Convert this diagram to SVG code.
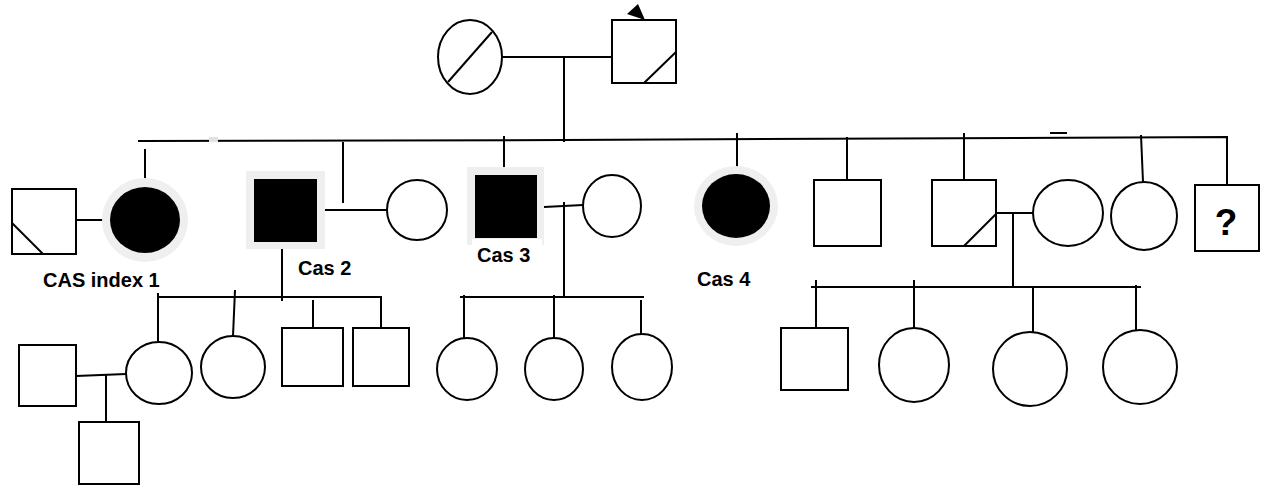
<svg xmlns="http://www.w3.org/2000/svg" width="1263" height="486" viewBox="0 0 1263 486">
<style>
.n{fill:#fff;stroke:#000;stroke-width:2}
.a{fill:#000;stroke:none}
.h{fill:#efefef;stroke:none}
.l{stroke:#000;stroke-width:2;fill:none}
.t{font-family:"Liberation Sans",Arial,sans-serif;font-weight:bold;font-size:20px;fill:#000}
</style>
<rect width="1263" height="486" fill="#fff"/>
<g id="connectors" class="l">
<line x1="502" y1="57" x2="612" y2="57"/>
<line x1="564" y1="57" x2="564" y2="142"/>
<polyline points="138,141 564,140 1227,137 1227,185"/>
<line x1="504" y1="137" x2="504" y2="150"/>
<line x1="145" y1="149" x2="145" y2="179"/>
<line x1="343" y1="142" x2="343" y2="203"/>
<line x1="504" y1="136" x2="504" y2="175"/>
<line x1="737" y1="133" x2="737" y2="175"/>
<line x1="847" y1="137" x2="847" y2="180"/>
<line x1="964" y1="133" x2="964" y2="180"/>
<line x1="1141" y1="135" x2="1143" y2="182"/>
<line x1="1050" y1="133" x2="1067" y2="133"/>
<line x1="76" y1="220" x2="103" y2="220"/>
<line x1="325" y1="210" x2="387" y2="210"/>
<line x1="544" y1="207" x2="583" y2="205"/>
<line x1="996" y1="213" x2="1033" y2="213"/>
<line x1="282" y1="242" x2="282" y2="301"/>
<polyline points="158,297 381,297 381,327"/>
<line x1="158" y1="293" x2="158" y2="342"/>
<line x1="235" y1="290" x2="233" y2="336"/>
<line x1="313" y1="300" x2="313" y2="328"/>
<line x1="564" y1="202" x2="564" y2="297"/>
<line x1="460" y1="297" x2="644" y2="297"/>
<line x1="464" y1="295" x2="464" y2="338"/>
<line x1="554" y1="295" x2="554" y2="338"/>
<line x1="641" y1="300" x2="641" y2="334"/>
<line x1="1013" y1="213" x2="1013" y2="288"/>
<line x1="811" y1="287" x2="1141" y2="287"/>
<line x1="816" y1="280" x2="816" y2="328"/>
<line x1="914" y1="280" x2="914" y2="328"/>
<line x1="1033" y1="287" x2="1033" y2="335"/>
<line x1="1136" y1="285" x2="1136" y2="333"/>
<line x1="76" y1="376" x2="126" y2="374"/>
<line x1="106" y1="375" x2="106" y2="422"/>
</g>
<rect x="209" y="137" width="9" height="5" fill="#e2e2e2"/>
<g id="gp-mother"><ellipse class="n" cx="470" cy="57" rx="32" ry="37"/><line class="l" x1="448" y1="82" x2="492" y2="32"/></g>
<g id="gp-father"><rect class="n" x="612" y="20" width="64" height="63"/><line class="l" x1="644" y1="83" x2="676" y2="52"/><polygon class="a" points="627,14 638,4 645,20"/></g>
<g id="spouse-1"><rect class="n" x="12" y="189" width="64" height="65"/><line class="l" x1="12" y1="223" x2="43" y2="254"/></g>
<g id="cas-index-1"><ellipse class="h" cx="145" cy="220" rx="43" ry="42"/><ellipse class="a" cx="145" cy="220" rx="35" ry="33"/><text class="t" x="43" y="287">CAS index 1</text></g>
<g id="cas-2"><rect class="h" x="246" y="171" width="79" height="78"/><rect class="a" x="254" y="179" width="63" height="63"/><text class="t" x="298" y="275">Cas 2</text></g>
<g id="spouse-2"><ellipse class="n" cx="417" cy="210" rx="30" ry="30"/></g>
<g id="cas-3"><rect class="h" x="467" y="167" width="77" height="78"/><rect fill="#fff" x="472" y="239" width="70" height="8"/><rect class="a" x="475" y="175" width="62" height="63"/><text class="t" x="477" y="262">Cas 3</text></g>
<g id="spouse-3"><ellipse class="n" cx="612" cy="206" rx="29" ry="31"/></g>
<g id="cas-4"><ellipse class="h" cx="736" cy="206" rx="42" ry="40"/><ellipse class="a" cx="736" cy="206" rx="34" ry="32"/><text class="t" x="697" y="286">Cas 4</text></g>
<g id="sib-5"><rect class="n" x="814" y="180" width="67" height="66"/></g>
<g id="sib-6"><rect class="n" x="932" y="180" width="64" height="66"/><line class="l" x1="964" y1="246" x2="996" y2="214"/></g>
<g id="spouse-6"><ellipse class="n" cx="1068" cy="213" rx="35" ry="33"/></g>
<g id="sib-7"><ellipse class="n" cx="1144" cy="216" rx="33" ry="34"/></g>
<g id="sib-8"><rect class="n" x="1195" y="185" width="64" height="66"/><text class="t" x="1226" y="235" text-anchor="middle" style="font-size:37px">?</text></g>
<g id="c2-child-1"><ellipse class="n" cx="159" cy="373" rx="33" ry="31"/></g>
<g id="c2-child-2"><ellipse class="n" cx="233" cy="367" rx="32" ry="31"/></g>
<g id="c2-child-3"><rect class="n" x="282" y="328" width="61" height="58"/></g>
<g id="c2-child-4"><rect class="n" x="353" y="328" width="56" height="58"/></g>
<g id="c2-child-1-spouse"><rect class="n" x="19" y="345" width="57" height="61"/></g>
<g id="grandchild"><rect class="n" x="79" y="422" width="60" height="62"/></g>
<g id="c3-child-1"><ellipse class="n" cx="467" cy="369" rx="30" ry="31"/></g>
<g id="c3-child-2"><ellipse class="n" cx="554" cy="369" rx="29" ry="31"/></g>
<g id="c3-child-3"><ellipse class="n" cx="642" cy="367" rx="30" ry="33"/></g>
<g id="s6-child-1"><rect class="n" x="781" y="328" width="67" height="62"/></g>
<g id="s6-child-2"><ellipse class="n" cx="914" cy="365" rx="35" ry="37"/></g>
<g id="s6-child-3"><ellipse class="n" cx="1030" cy="369" rx="37" ry="37"/></g>
<g id="s6-child-4"><ellipse class="n" cx="1140" cy="367" rx="37" ry="37"/></g>
</svg>
